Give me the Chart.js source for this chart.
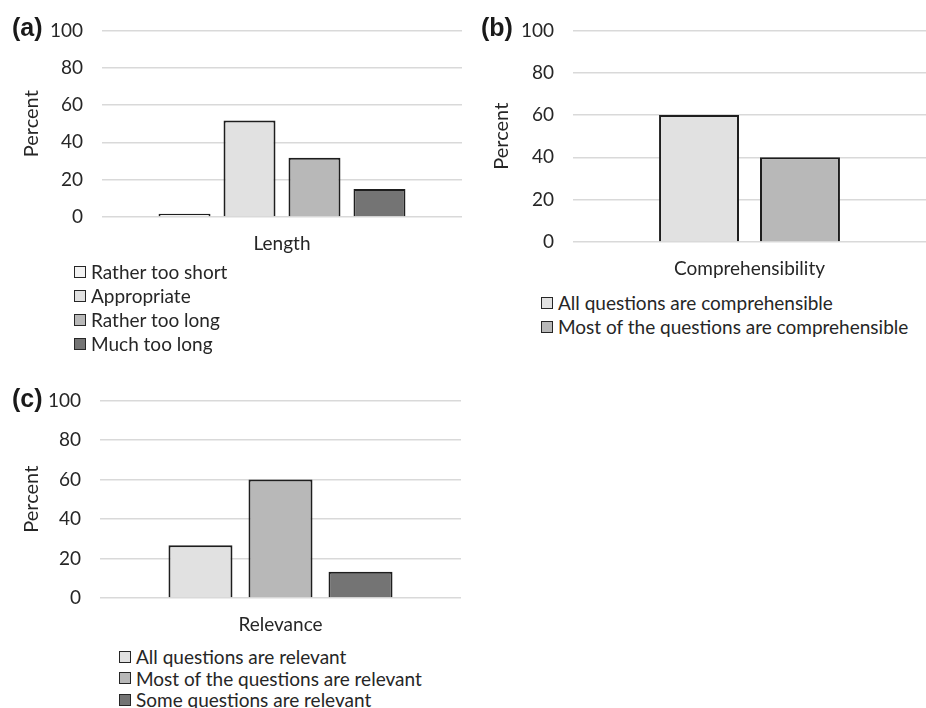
<!DOCTYPE html>
<html lang="en">
<head>
  <meta charset="UTF-8" />
  <title>Questionnaire evaluation</title>
  <script src="https://cdn.jsdelivr.net/npm/chart.js"></script>
  <style>
    body {
      margin: 0;
      background: #ffffff;
      width: 926px;
      height: 708px;
      overflow: hidden;
      position: relative;
      font-family: Lato, sans-serif;
      color: #262626;
    }
    .panel { position: absolute; }
    .tag {
      position: absolute;
      font-family: 'Liberation Sans', Arial, sans-serif;
      font-weight: bold;
      font-size: 25px;
      color: #1a1a1a;
    }
    .legend {
      position: absolute;
      font-size: 19px;
      line-height: 24px;
    }
    .legend div { display: flex; align-items: center; white-space: nowrap; }
    .legend span.box {
      display: inline-block;
      width: 10px;
      height: 10px;
      border: 1px solid #262626;
      margin-right: 5px;
    }
  </style>
</head>
<body>

  <div class="panel" style="left:0; top:0; width:470px; height:270px;"><canvas id="chartA"></canvas></div>
  <div class="panel" style="left:470px; top:0; width:456px; height:290px;"><canvas id="chartB"></canvas></div>
  <div class="panel" style="left:0; top:370px; width:470px; height:270px;"><canvas id="chartC"></canvas></div>

  <div class="tag" style="left:12px; top:13px;">(a)</div>
  <div class="tag" style="left:481px; top:13px;">(b)</div>
  <div class="tag" style="left:12px; top:384px;">(c)</div>

  <div id="legendA" class="legend" style="left:74px; top:260px;"></div>
  <div id="legendB" class="legend" style="left:541px; top:291px;"></div>
  <div id="legendC" class="legend" style="left:119px; top:646px; line-height:21.6px;"></div>

  <script>
    // --- data ---
    const yTicks = [0, 20, 40, 60, 80, 100];

    const lengthCategory = ['Length'];
    const lengthSeries = ['Rather too short', 'Appropriate', 'Rather too long', 'Much too long'];
    const lengthValues = [1.7, 51.7, 31.7, 15.0];
    const lengthColors = ['#f2f2f2', '#e1e1e1', '#b8b8b8', '#747474'];

    const compCategory = ['Comprehensibility'];
    const compSeries = ['All questions are comprehensible', 'Most of the questions are comprehensible'];
    const compValues = [60, 40];
    const compColors = ['#e1e1e1', '#b8b8b8'];

    const relCategory = ['Relevance'];
    const relSeries = ['All questions are relevant', 'Most of the questions are relevant', 'Some questions are relevant'];
    const relValues = [26.7, 60, 13.3];
    const relColors = ['#e1e1e1', '#b8b8b8', '#747474'];

    Chart.defaults.font.family = 'Lato, sans-serif';
    Chart.defaults.color = '#262626';
    Chart.defaults.animation = false;

    function buildChart(id, legendId, category, series, values, colors, opt) {
      const datasets = series.map((name, i) => ({
        label: name,
        data: [values[i]],
        backgroundColor: colors[i],
        borderColor: '#1e1e1e',
        borderWidth: 2,
        categoryPercentage: opt.catPct,
        barPercentage: opt.barPct
      }));

      const chart = new Chart(document.getElementById(id), {
        type: 'bar',
        data: { labels: category, datasets: datasets },
        options: {
          responsive: true,
          maintainAspectRatio: false,
          layout: { padding: { top: opt.top, left: 0, right: opt.right, bottom: 0 } },
          plugins: { legend: { display: false }, tooltip: { enabled: false } },
          scales: {
            x: {
              grid: { display: false },
              border: { display: false },
              ticks: { font: { size: 19 }, padding: 7 },
              afterFit: (s) => { s.height = opt.xHeight; }
            },
            y: {
              min: 0,
              max: 100,
              afterBuildTicks: (s) => { s.ticks = yTicks.map(v => ({ value: v })); },
              grid: { color: '#d9d9d9', lineWidth: 1.5, drawTicks: false },
              border: { display: false },
              ticks: { font: { size: 19 }, padding: 19 },
              title: { display: true, text: 'Percent', font: { size: 20 }, padding: { top: 20, bottom: 0 } },
              afterFit: (s) => { s.width = opt.yWidth; }
            }
          }
        }
      });

      // legend as a vertical list under the plot
      const box = document.getElementById(legendId);
      series.forEach((name, i) => {
        const row = document.createElement('div');
        const sw = document.createElement('span');
        sw.className = 'box';
        sw.style.background = colors[i];
        row.appendChild(sw);
        row.appendChild(document.createTextNode(name));
        box.appendChild(row);
      });
      return chart;
    }

    buildChart('chartA', 'legendA', lengthCategory, lengthSeries, lengthValues, lengthColors,
      { top: 23, right: 8, yWidth: 102, xHeight: 53, catPct: 0.722, barPct: 0.8 });
    buildChart('chartB', 'legendB', compCategory, compSeries, compValues, compColors,
      { top: 23, right: 0, yWidth: 103, xHeight: 48, catPct: 0.572, barPct: 0.792 });
    buildChart('chartC', 'legendC', relCategory, relSeries, relValues, relColors,
      { top: 24, right: 9, yWidth: 100, xHeight: 42, catPct: 0.665, barPct: 0.8 });
  </script>
</body>
</html>
